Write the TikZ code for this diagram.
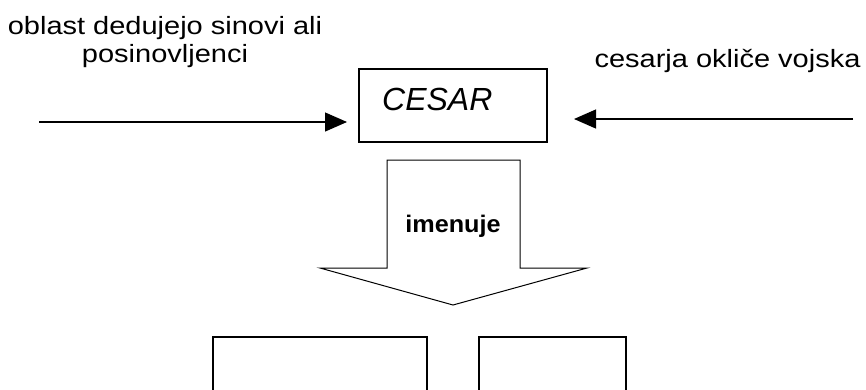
\documentclass[tikz,border=0pt]{standalone}
\usepackage{fontspec}
\setmainfont{Liberation Sans}
\usetikzlibrary{arrows.meta}
\begin{document}
\begin{tikzpicture}[x=1pt,y=-1pt,
  box/.style={draw, line width=1.2pt, inner sep=0pt},
  lbl/.style={font=\fontsize{25}{28}\selectfont, inner sep=0pt},
  arr/.style={-{Triangle[length=22pt,width=19pt]}, line width=1.2pt}]
\useasboundingbox (0,0) rectangle (866,389);
\clip (0,0) rectangle (866,389);
% CESAR box
\node[box, minimum width=188pt, minimum height=73pt] (cesar) at (453,105.5) {};
\node[inner sep=0pt, anchor=base west, font=\fontsize{32}{38}\selectfont\itshape] (cesartxt) at (382,110) {CESAR};
% side labels
\node[lbl, anchor=center] (ltxt) at (165,42.4) {\scalebox{1.16}[1]{\begin{tabular}{@{}c@{}}oblast dedujejo sinovi ali\\posinovljenci\end{tabular}}};
\node[lbl, anchor=base] (rtxt) at (727.5,67) {\scalebox{1.16}[1]{cesarja okliče vojska}};
% side arrows
\coordinate (lstart) at (39,122);
\coordinate (ltip) at (347,122);
\coordinate (rstart) at (853,119);
\coordinate (rtip) at (574,119);
\draw[arr] (lstart) -- (ltip);
\draw[arr] (rstart) -- (rtip);
% block arrow
\draw[line width=1pt, line join=miter] (387,160) -- (520,160) -- (520,268) -- (587,268) -- (453,305) -- (320,268) -- (387,268) -- cycle;
\node[inner sep=0pt, anchor=base, font=\fontsize{24}{28}\selectfont\bfseries] (imen) at (453,232) {\scalebox{1.05}[1]{imenuje}};
% bottom boxes
\node[box, minimum width=214pt, minimum height=113pt] (b1) at (320,393.5) {};
\node[box, minimum width=147pt, minimum height=113pt] (b2) at (552.5,393.5) {};
\end{tikzpicture}
\end{document}
